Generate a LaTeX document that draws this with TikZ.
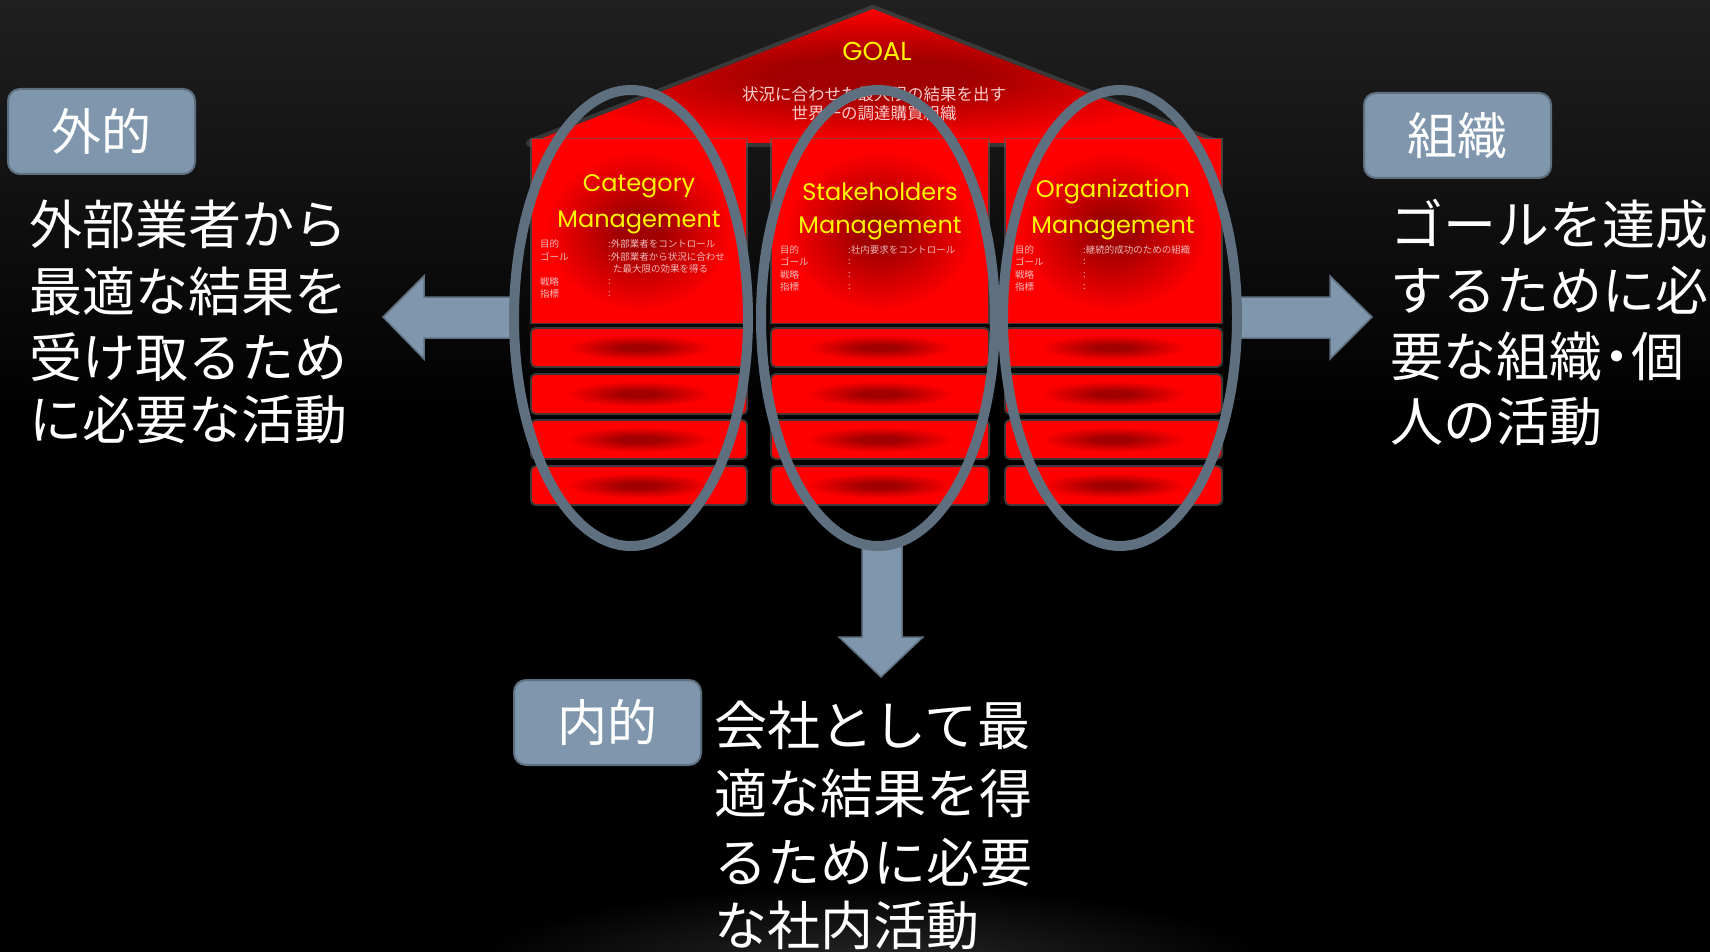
\documentclass[tikz,border=0pt]{standalone}
\usepackage{fontspec}
\setmainfont{Noto Sans CJK JP}
\newfontfamily\latfont{Poppins}
\usetikzlibrary{shapes.geometric}
\definecolor{dred}{RGB}{160,0,0}
\definecolor{bred}{RGB}{255,0,0}
\definecolor{slate}{RGB}{94,112,128}
\definecolor{slatefill}{RGB}{127,150,172}
\definecolor{ytext}{RGB}{255,245,0}
\definecolor{pinktext}{RGB}{240,185,185}
\definecolor{rooftext}{RGB}{250,205,205}
\definecolor{bgtop}{RGB}{32,32,32}
\definecolor{bgglow}{RGB}{40,40,40}
\definecolor{glowgray}{RGB}{95,95,95}
\pgfdeclareradialshading{barshade}{\pgfpointorigin}{color(0bp)=(dred); color(4bp)=(dred); color(17bp)=(bred); color(50bp)=(bred)}
\pgfdeclareradialshading{panelshade}{\pgfpointorigin}{color(0bp)=(dred); color(5bp)=(dred); color(22bp)=(bred); color(50bp)=(bred)}
\pgfdeclareradialshading{roofshade}{\pgfpointorigin}{color(0bp)=(dred); color(7bp)=(dred); color(25bp)=(bred); color(50bp)=(bred)}
\begin{document}
\begin{tikzpicture}[x=1pt,y=-1pt,
  bigtxt/.style={anchor=west, inner sep=0pt, text=white, font=\fontsize{53}{60}\selectfont},
  smalltxt/.style={anchor=west, inner sep=0pt, text=pinktext, font=\fontsize{9.5}{11}\selectfont},
  rooftxt/.style={inner sep=0pt, text=rooftext, font=\fontsize{16.5}{18}\selectfont},
  coltitle/.style={inner sep=0pt, text=ytext, font=\latfont\fontsize{24}{28}\selectfont},
  lbl/.style={rounded corners=12pt, fill=slatefill, draw=slate, line width=2pt, minimum width=187pt, minimum height=85pt, inner sep=0pt, text=white, font=\fontsize{50}{60}\selectfont},
  ring/.style={ellipse, draw=slate, line width=10pt, minimum width=234pt, minimum height=456pt, inner sep=0pt},
  blockarrow/.style={fill=slatefill, draw=slate, line width=1.5pt, line join=miter},
  glow/.style={draw=glowgray, line width=4pt, opacity=0.6},
]
\useasboundingbox (0,0) rectangle (1710,952);
% background
\fill[black] (0,0) rectangle (1710,952);
\shade[top color=bgtop, bottom color=black] (0,0) rectangle (1710,420);
\shade[inner color=bgglow, outer color=black] (870,965) ellipse [x radius=400pt, y radius=80pt];

% roof
\draw[draw=glowgray, line width=8pt, opacity=0.45, line join=round] (530,143) -- (873,9) -- (1216,143) -- cycle;
\shade[shading=roofshade] (530,143) -- (873,9) -- (1216,143) -- cycle;

% columns
\foreach \xl/\xr in {532/746, 772/988, 1006/1221}{
  \path[glow] (\xl,140) rectangle (\xr,322);
  \shade[shading=panelshade] (\xl,140) rectangle (\xr,322);
  \foreach \yt/\yb in {329/366, 375/413, 421/458, 467/504}{
    \path[glow, rounded corners=4pt] (\xl,\yt) rectangle (\xr,\yb);
    \shade[shading=barshade, rounded corners=4pt] (\xl,\yt) rectangle (\xr,\yb);
  }
}

% roof texts
\node[inner sep=0pt, text=ytext, font=\latfont\fontsize{26}{30}\selectfont] (goal) at (877,51) {GOAL};
\node[rooftxt] (roof1) at (874,94) {状況に合わせた最大限の結果を出す};
\node[rooftxt] (roof2) at (874,113) {世界一の調達購買組織};

% column titles
\node[coltitle] (c1a) at (639,186) {Category};
\node[coltitle] (c1b) at (639,222) {Management};
\node[coltitle] (c2a) at (880,192) {Stakeholders};
\node[coltitle] (c2b) at (880,228) {Management};
\node[coltitle] (c3a) at (1113,192) {Organization};
\node[coltitle] (c3b) at (1113,228) {Management};

% small texts column 1
\node[smalltxt] (s11) at (540,244) {目的};
\node[smalltxt] (s12) at (540,257) {ゴール};
\node[smalltxt] (s13) at (540,282) {戦略};
\node[smalltxt] (s14) at (540,294) {指標};
\node[smalltxt] (v11) at (608,244) {:外部業者をコントロール};
\node[smalltxt] (v12) at (608,257) {:外部業者から状況に合わせ};
\node[smalltxt] (v12b) at (613,269) {た最大限の効果を得る};
\node[smalltxt] (v13) at (608,282) {:};
\node[smalltxt] (v14) at (608,294) {:};
% column 2
\node[smalltxt] (s21) at (780,250) {目的};
\node[smalltxt] (s22) at (780,262) {ゴール};
\node[smalltxt] (s23) at (780,275) {戦略};
\node[smalltxt] (s24) at (780,287) {指標};
\node[smalltxt] (v21) at (848,250) {:社内要求をコントロール};
\node[smalltxt] (v22) at (848,262) {:};
\node[smalltxt] (v23) at (848,275) {:};
\node[smalltxt] (v24) at (848,287) {:};
% column 3
\node[smalltxt] (s31) at (1015,250) {目的};
\node[smalltxt] (s32) at (1015,262) {ゴール};
\node[smalltxt] (s33) at (1015,275) {戦略};
\node[smalltxt] (s34) at (1015,287) {指標};
\node[smalltxt] (v31) at (1083,250) {:継続的成功のための組織};
\node[smalltxt] (v32) at (1083,262) {:};
\node[smalltxt] (v33) at (1083,275) {:};
\node[smalltxt] (v34) at (1083,287) {:};

% block arrows
\draw[blockarrow] (516,297) -- (424,297) -- (424,276) -- (383,317) -- (424,359) -- (424,338) -- (516,338) -- cycle;
\draw[blockarrow] (1236,297) -- (1330,297) -- (1330,276) -- (1372,317) -- (1330,359) -- (1330,338) -- (1236,338) -- cycle;
\draw[blockarrow] (862,543) -- (862,637) -- (839,637) -- (881,677) -- (923,637) -- (902,637) -- (902,543) -- cycle;

% rings
\node[ring] (e1) at (631,318) {};
\node[ring] (e2) at (878,318) {};
\node[ring] (e3) at (1120,318) {};

% labels
\node[lbl] (ext) at (101.5,131.5) {外的};
\node[lbl] (org) at (1457.5,135.5) {組織};
\node[lbl] (int) at (607.5,722.5) {内的};

% big texts
\node[bigtxt] (l1) at (29,224) {外部業者から};
\node[bigtxt] (l2) at (29,291) {最適な結果を};
\node[bigtxt] (l3) at (29,357) {受け取るため};
\node[bigtxt] (l4) at (29,420) {に必要な活動};

\node[bigtxt] (r1) at (1390,224) {ゴールを達成};
\node[bigtxt] (r2) at (1390,290) {するために必};
\node[bigtxt] (r3) at (1390,357) {要な組織\kern-0.22em・\kern-0.22em個};
\node[bigtxt] (r4) at (1390,422) {人の活動};

\node[bigtxt] (b1) at (714,725) {会社として最};
\node[bigtxt] (b2) at (714,793) {適な結果を得};
\node[bigtxt] (b3) at (714,862) {るために必要};
\node[bigtxt] (b4) at (714,925) {な社内活動};
\end{tikzpicture}
\end{document}
